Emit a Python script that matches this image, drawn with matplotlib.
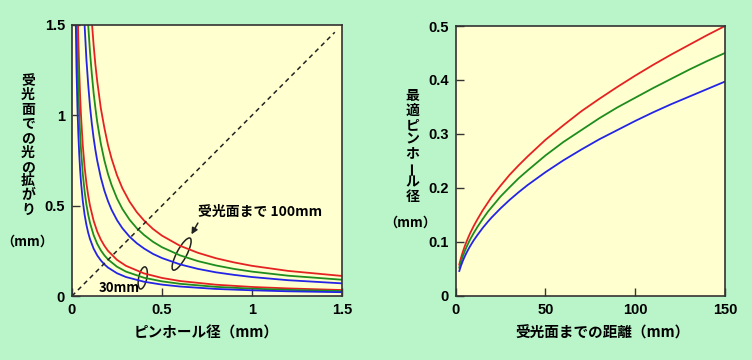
import matplotlib
matplotlib.use("Agg")
import matplotlib.pyplot as plt
from matplotlib.patches import Ellipse

plt.rcParams['font.family'] = ['Noto Sans CJK JP', 'DejaVu Sans']
plt.rcParams['font.weight'] = 'bold'

# left chart: spread of light on the screen vs pinhole diameter
d_100 = [0.06, 0.07, 0.08, 0.09, 0.10, 0.11, 0.12, 0.13, 0.14, 0.16, 0.18, 0.20, 0.22, 0.25,
         0.28, 0.32, 0.36, 0.40, 0.45, 0.50, 0.60, 0.70, 0.80, 0.90, 1.00, 1.20, 1.50]
red_100 = [2.78, 2.39, 2.09, 1.86, 1.67, 1.52, 1.39, 1.28, 1.19, 1.04, 0.93, 0.835, 0.76, 0.668,
           0.596, 0.522, 0.464, 0.418, 0.371, 0.334, 0.278, 0.239, 0.209, 0.186, 0.167, 0.139, 0.111]
green_100 = [2.25, 1.93, 1.69, 1.50, 1.35, 1.23, 1.125, 1.04, 0.964, 0.844, 0.75, 0.675, 0.614, 0.54,
             0.482, 0.422, 0.375, 0.338, 0.30, 0.27, 0.225, 0.193, 0.169, 0.15, 0.135, 0.1125, 0.09]
blue_100 = [1.75, 1.50, 1.31, 1.17, 1.05, 0.955, 0.875, 0.808, 0.75, 0.656, 0.583, 0.525, 0.477, 0.42,
            0.375, 0.328, 0.292, 0.263, 0.233, 0.21, 0.175, 0.15, 0.131, 0.117, 0.105, 0.0875, 0.07]

d_30 = [0.015, 0.02, 0.025, 0.03, 0.035, 0.04, 0.045, 0.05, 0.06, 0.07, 0.08, 0.09, 0.10, 0.12,
        0.14, 0.16, 0.18, 0.20, 0.25, 0.30, 0.40, 0.50, 0.60, 0.80, 1.00, 1.20, 1.50]
red_30 = [3.33, 2.5, 2.0, 1.67, 1.43, 1.25, 1.11, 1.0, 0.833, 0.714, 0.625, 0.556, 0.50, 0.417,
          0.357, 0.3125, 0.278, 0.25, 0.20, 0.167, 0.125, 0.10, 0.083, 0.0625, 0.05, 0.042, 0.033]
green_30 = [2.7, 2.03, 1.62, 1.35, 1.16, 1.01, 0.90, 0.81, 0.675, 0.579, 0.506, 0.45, 0.405, 0.3375,
            0.289, 0.253, 0.225, 0.2025, 0.162, 0.135, 0.101, 0.081, 0.0675, 0.0506, 0.0405, 0.034, 0.027]
blue_30 = [2.1, 1.575, 1.26, 1.05, 0.90, 0.788, 0.70, 0.63, 0.525, 0.45, 0.394, 0.35, 0.315, 0.2625,
           0.225, 0.197, 0.175, 0.1575, 0.126, 0.105, 0.079, 0.063, 0.0525, 0.039, 0.0315, 0.026, 0.021]

diag_x = [0, 1.46]
diag_y = [0, 1.46]

# right chart: best pinhole diameter vs distance to screen
dist = [2, 3, 4, 5, 6, 7, 8, 10, 12, 15, 18, 20, 25, 30, 35, 40, 50, 60, 70, 80, 90, 100,
        110, 120, 130, 140, 150]
best_red = [0.0577, 0.0707, 0.0816, 0.0913, 0.1, 0.108, 0.1155, 0.129, 0.141, 0.158, 0.173, 0.183,
            0.204, 0.224, 0.2415, 0.258, 0.289, 0.316, 0.342, 0.365, 0.387, 0.408, 0.428, 0.447,
            0.465, 0.483, 0.50]
best_green = [0.052, 0.0636, 0.0735, 0.0822, 0.09, 0.0972, 0.104, 0.116, 0.127, 0.142, 0.156, 0.164,
              0.184, 0.201, 0.2175, 0.232, 0.26, 0.285, 0.307, 0.329, 0.349, 0.367, 0.385, 0.402,
              0.419, 0.435, 0.45]
best_blue = [0.0458, 0.0561, 0.0648, 0.0725, 0.0794, 0.0857, 0.0917, 0.1025, 0.112, 0.1255, 0.1375,
             0.145, 0.162, 0.1775, 0.1917, 0.205, 0.229, 0.251, 0.271, 0.29, 0.307, 0.324, 0.34,
             0.355, 0.369, 0.383, 0.397]

RED, GREEN, BLUE = '#e52222', '#1e8c1e', '#2424e6'
W, H = 752, 360

fig = plt.figure(figsize=(W / 100, H / 100), dpi=100, facecolor='#b9f5c9')
ax1 = fig.add_axes([72 / W, 1 - 296 / H, 270 / W, 271 / H])
ax2 = fig.add_axes([455.7 / W, 1 - 295.7 / H, 269.3 / W, 269.7 / H])

for ax in (ax1, ax2):
    ax.set_facecolor('#ffffcf')
    for s in ax.spines.values():
        s.set_color('#333333')
        s.set_linewidth(1.2)
    ax.tick_params(direction='in', length=6, width=1, color='#333333', pad=5)

lw = 1.3
ax1.plot(d_100, red_100, color=RED, lw=lw)
ax1.plot(d_100, green_100, color=GREEN, lw=lw)
ax1.plot(d_100, blue_100, color=BLUE, lw=lw)
ax1.plot(d_30, red_30, color=RED, lw=lw)
ax1.plot(d_30, green_30, color=GREEN, lw=lw)
ax1.plot(d_30, blue_30, color=BLUE, lw=lw)
ax1.plot(diag_x, diag_y, color='#222222', lw=1.1, ls=(0, (3, 2.5)))
ax1.set_xlim(0, 1.5)
ax1.set_ylim(0, 1.5)
ax1.set_xticks([0, 0.5, 1, 1.5], ['0', '0.5', '1', '1.5'])
ax1.set_yticks([0, 0.5, 1, 1.5], ['0', '0.5', '1', '1.5'])

ax1.add_patch(Ellipse((0.609, 0.232), 0.2, 0.055, angle=62, fill=False, ec='#222222', lw=1.1))
ax1.add_patch(Ellipse((0.393, 0.1), 0.125, 0.045, angle=78, fill=False, ec='#222222', lw=1.1))
ax1.text(0.70, 0.465, '受光面まで 100mm', fontsize=10, fontweight='bold', va='center', ha='left')
ax1.annotate('', xy=(0.656, 0.328), xytext=(0.707, 0.417),
             arrowprops=dict(arrowstyle='-|>', color='#222222', lw=1.1, mutation_scale=9))
ax1.text(0.15, 0.047, '30mm', fontsize=9.5, fontweight='bold', va='center', ha='left')

ax2.plot(dist, best_red, color=RED, lw=lw)
ax2.plot(dist, best_green, color=GREEN, lw=lw)
ax2.plot(dist, best_blue, color=BLUE, lw=lw)
ax2.set_xlim(0, 150)
ax2.set_ylim(0, 0.5)
ax2.set_xticks([0, 50, 100, 150], ['0', '50', '100', '150'])
ax2.set_yticks([0, 0.1, 0.2, 0.3, 0.4, 0.5], ['0', '0.1', '0.2', '0.3', '0.4', '0.5'])

for ax in (ax1, ax2):
    for lab in ax.get_xticklabels() + ax.get_yticklabels():
        lab.set_fontfamily(['Liberation Sans', 'DejaVu Sans'])
        lab.set_fontweight('bold')
        lab.set_fontsize(10.5)


def px(x, y):
    return x / W, 1 - y / H


def vertical(chars, x, y0, step, size=10):
    for i, c in enumerate(chars):
        rot = 90 if c == 'ー' else 0
        fig.text(*px(x, y0 + i * step), c, fontsize=size, fontweight='bold',
                 ha='center', va='center', rotation=rot)


vertical('受光面での光の拡がり', 28, 81, 14.3)
fig.text(*px(27, 242), '（mm）', fontsize=9.5, fontweight='bold', ha='center', va='center')
vertical('最適ピンホール径', 412.5, 96, 14.4)
fig.text(*px(410, 223), '（mm）', fontsize=9.5, fontweight='bold', ha='center', va='center')

fig.text(*px(206, 333), 'ピンホール径（mm）', fontsize=10.5, fontweight='bold', ha='center', va='center')
fig.text(*px(602.5, 333), '受光面までの距離（mm）', fontsize=10.5, fontweight='bold', ha='center', va='center')

fig.savefig('out.png', dpi=100, facecolor=fig.get_facecolor())
